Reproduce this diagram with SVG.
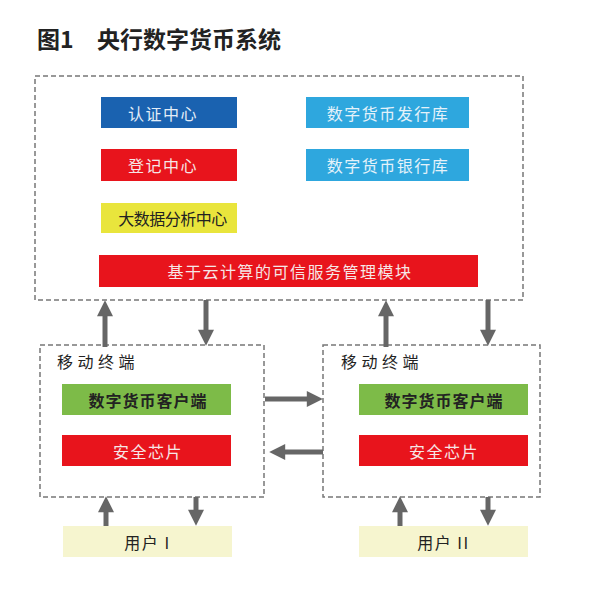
<svg xmlns="http://www.w3.org/2000/svg" width="600" height="589" viewBox="0 0 600 589">
<style>
text{font-family:"Noto Sans CJK SC","Noto Sans",sans-serif;}
.t{font-size:16px;letter-spacing:1.5px;text-anchor:middle;dominant-baseline:central;}
.w{fill:#f6e6e6;}
.d{fill:#222;font-weight:bold;}
.frame{fill:none;stroke:#777;stroke-width:1.5;stroke-dasharray:5 3;}
.arr{stroke:#666;stroke-width:5;fill:none;marker-end:url(#ah);}
</style>
<defs>
<marker id="ah" viewBox="0 0 10 10" refX="2" refY="5" markerWidth="3.4" markerHeight="3.2" orient="auto" markerUnits="strokeWidth">
<path d="M0,0 L10,5 L0,10 Z" fill="#666"/>
</marker>
</defs>
<rect width="600" height="589" fill="#fff"/>
<text x="37" y="48" font-size="23" font-weight="600" fill="#222">图1</text>
<text x="97" y="48" font-size="23" font-weight="600" fill="#222">央行数字货币系统</text>

<g id="central">
<rect class="frame" x="35" y="76" width="488" height="224"/>
</g>
<g id="auth"><rect x="101" y="97" width="136" height="31" fill="#1a62b0"/><text class="t" x="163" y="112.5" fill="#e4eef8">认证中心</text></g>
<g id="issue"><rect x="306" y="97" width="163" height="31" fill="#2ea7de"/><text class="t" x="388" y="112.5" fill="#e4f2fa">数字货币发行库</text></g>
<g id="register"><rect x="101" y="149" width="136" height="32" fill="#e8141c"/><text class="t w" x="163" y="165">登记中心</text></g>
<g id="bank"><rect x="306" y="149" width="163" height="32" fill="#2ea7de"/><text class="t" x="388" y="165" fill="#e4f2fa">数字货币银行库</text></g>
<g id="bigdata"><rect x="101" y="203" width="136" height="30" fill="#e9e53c"/><text class="t" x="172.5" y="218" fill="#222" font-size="18" style="letter-spacing:-0.5px">大数据分析中心</text></g>
<g id="tsm"><rect x="99" y="255" width="379" height="32" fill="#e8141c"/><text class="t w" x="290" y="271">基于云计算的可信服务管理模块</text></g>

<g id="mobile1">
<rect class="frame" x="40" y="345" width="224" height="152"/>
<text x="57" y="368" font-size="16" fill="#222" style="letter-spacing:4.5px">移动终端</text>
</g>
<g id="client1"><rect x="62" y="384" width="169" height="31" fill="#7dbb48"/><text class="t d" x="148" y="399.5" font-size="17" style="letter-spacing:1px">数字货币客户端</text></g>
<g id="chip1"><rect x="62" y="435" width="169" height="31" fill="#e8141c"/><text class="t w" x="148" y="450.5">安全芯片</text></g>
<g id="user1"><rect x="63" y="526" width="169" height="31" fill="#f6f5cf"/><text class="t" x="147.5" y="541.5" fill="#222">用户 I</text></g>

<g id="mobile2">
<rect class="frame" x="323" y="345" width="217" height="152"/>
<text x="341" y="368" font-size="16" fill="#222" style="letter-spacing:4.5px">移动终端</text>
</g>
<g id="client2"><rect x="359" y="384" width="169" height="31" fill="#7dbb48"/><text class="t d" x="444" y="399.5" font-size="17" style="letter-spacing:1px">数字货币客户端</text></g>
<g id="chip2"><rect x="359" y="435" width="169" height="31" fill="#e8141c"/><text class="t w" x="444" y="450.5">安全芯片</text></g>
<g id="user2"><rect x="359" y="526" width="169" height="31" fill="#f6f5cf"/><text class="t" x="443.5" y="541.5" fill="#222">用户 II</text></g>

<g id="connectors">
<line class="arr" x1="105" y1="347" x2="105" y2="313"/>
<line class="arr" x1="206" y1="300" x2="206" y2="333"/>
<line class="arr" x1="386" y1="347" x2="386" y2="313"/>
<line class="arr" x1="488" y1="300" x2="488" y2="333"/>
<line class="arr" x1="265" y1="399" x2="310" y2="399"/>
<line class="arr" x1="323" y1="452" x2="282" y2="452"/>
<line class="arr" x1="106" y1="526" x2="106" y2="509"/>
<line class="arr" x1="196" y1="497" x2="196" y2="513"/>
<line class="arr" x1="400" y1="526" x2="400" y2="509"/>
<line class="arr" x1="488" y1="497" x2="488" y2="513"/>
</g>
</svg>
